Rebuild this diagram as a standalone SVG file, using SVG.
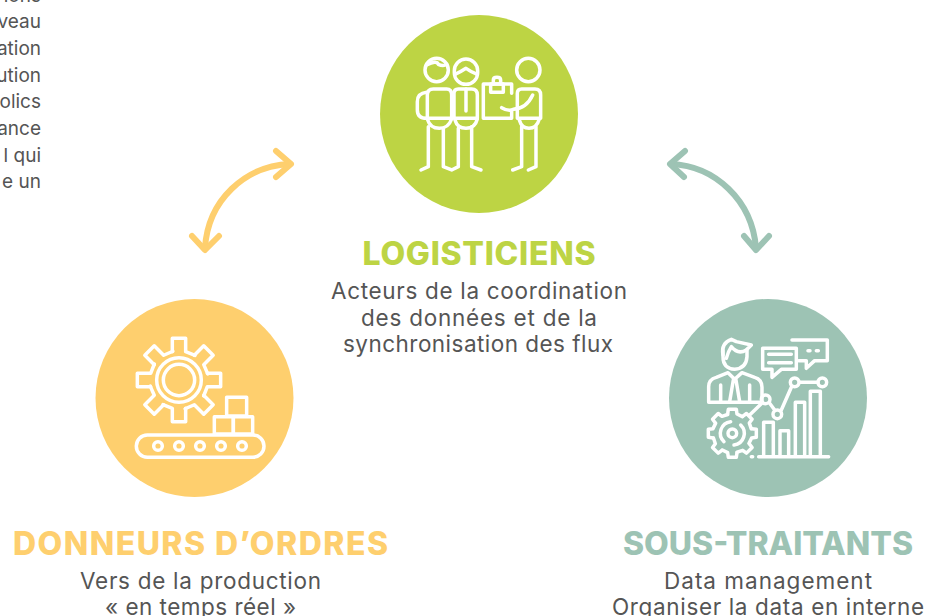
<svg xmlns="http://www.w3.org/2000/svg" xmlns:xlink="http://www.w3.org/1999/xlink" width="926" height="616" viewBox="0 0 926 616">
<style>
text{font-family:"Inter","Liberation Sans",sans-serif}
.b{font-size:22.500px;fill:#555;text-anchor:middle}
.s{font-size:19px;fill:#555;text-anchor:end}
.t{font-size:32px;font-weight:800;text-anchor:middle}
.i{fill:none;stroke:#fff;stroke-width:10.500;stroke-linecap:round;stroke-linejoin:round}
.a{fill:none;stroke-width:6;stroke-linecap:round;stroke-linejoin:round}
</style>
<rect width="926" height="616" fill="#fff"/>
<g id="side-text">
<text class="s" x="41" y="1.500">ions</text>
<text class="s" x="41" y="27.500">veau</text>
<text class="s" x="41" y="54.500">ation</text>
<text class="s" x="41" y="81.500">ution</text>
<text class="s" x="41" y="108">olics</text>
<text class="s" x="41" y="134.500">ance</text>
<text class="s" x="41" y="161.500">l qui</text>
<text class="s" x="41" y="188">e un</text>
</g>
<g id="connectors">
<g class="a" stroke="#fecf6e">
<path d="M205,248C208,200 245,166 290,164"/>
<path d="M192,236L205,250L219,236M276,151L291,164L276,177"/>
</g>
<g class="a" stroke="#9dc3b4">
<path d="M671,164C715,166 752,200 756,248"/>
<path d="M685,151L670,164L684,177M744,236L756,250L769,236"/>
</g>
</g>
<g id="logisticiens">
<circle cx="479" cy="114" r="99" fill="#bdd444"/>
<g class="i" transform="translate(380 15) scale(.3333)">
<circle cx="170" cy="165" r="35"/>
<path d="M140,150Q170,135 175,148Q190,155 200,148"/>
<path d="M142,310V240Q142,222 160,222H200Q215,222 215,240V310H142"/>
<path d="M140,232Q112,235 112,260V285Q112,310 140,310"/>
<path d="M142,312Q150,340 178,340Q205,340 215,312"/>
<path d="M145,335V455L123,465M190,340V455L215,465L235,455V340"/>
<rect x="223" y="132" width="70" height="76" rx="35"/>
<path d="M225,178Q240,172 258,160Q275,172 292,178"/>
<path d="M222,310V235Q222,222 235,222H275Q292,222 292,240V310H222"/>
<path d="M258,222V288"/>
<path d="M225,315Q232,340 258,340Q285,340 292,312"/>
<path d="M275,335V455L303,465"/>
<path d="M395,235V207H310V310H395V290"/>
<rect x="332" y="207" width="38" height="25"/>
<path d="M340,207V195Q340,187 351,187Q362,187 362,195V207"/>
<circle cx="445" cy="165" r="35"/>
<path d="M412,310V235Q412,222 425,222H465Q482,222 482,240V310H412"/>
<path d="M365,278Q385,290 400,283Q440,280 458,240"/>
<path d="M418,315Q425,340 447,340Q470,340 478,312"/>
<path d="M425,335V455L398,465M468,335V455L445,465"/>
</g>
<text class="t" x="479" y="264.500" fill="#bdd444" textLength="233">LOGISTICIENS</text>
<text class="b" x="479" y="298.500" textLength="296">Acteurs de la coordination</text>
<text class="b" x="479" y="325.500" textLength="236">des données et de la</text>
<text class="b" x="478" y="351.500" textLength="270">synchronisation des flux</text>
</g>
<g id="donneurs">
<circle cx="194.500" cy="398" r="99" fill="#fecf6e"/>
<g class="i" transform="translate(95 300) scale(.3333)">
<g transform="translate(252 240)">
<path id="g8" d="M-20,-85V-125H20V-85L48,-74"/>
<use xlink:href="#g8" href="#g8" transform="rotate(45)"/>
<use xlink:href="#g8" href="#g8" transform="rotate(90)"/>
<use xlink:href="#g8" href="#g8" transform="rotate(135)"/>
<use xlink:href="#g8" href="#g8" transform="rotate(180)"/>
<use xlink:href="#g8" href="#g8" transform="rotate(225)"/>
<use xlink:href="#g8" href="#g8" transform="rotate(270)"/>
<use xlink:href="#g8" href="#g8" transform="rotate(315)"/>
<circle r="67"/>
<circle r="47"/>
</g>
<rect x="395" y="292" width="60" height="56"/>
<rect x="358" y="350" width="57" height="52"/>
<rect x="415" y="350" width="58" height="52"/>
<rect x="124" y="405" width="383" height="67" rx="33"/>
<circle cx="189" cy="438" r="13"/>
<circle cx="252" cy="438" r="13"/>
<circle cx="315" cy="438" r="13"/>
<circle cx="378" cy="438" r="13"/>
<circle cx="441" cy="438" r="13"/>
</g>
<text class="t" x="200.500" y="555" fill="#fecf6e" textLength="375">DONNEURS D’ORDRES</text>
<text class="b" x="200.500" y="588.500" textLength="241">Vers de la production</text>
<text class="b" x="200.500" y="615" textLength="191">« en temps réel »</text>
</g>
<g id="sous-traitants">
<circle cx="768" cy="398" r="99" fill="#9dc3b4"/>
<g class="i" transform="translate(668 300) scale(.3333)">
<path d="M165,150V170Q165,205 200,208Q235,205 237,170V148"/>
<path d="M165,165Q158,130 190,118L205,125L250,135L235,150Q210,165 190,140Q180,155 175,175"/>
<path d="M122,307V260Q122,238 145,232L180,218L200,238L222,218L260,232Q282,238 282,262V307H122"/>
<path d="M158,255V305M245,255V305M196,240L185,305M204,240L215,305"/>
<path d="M284,145H385V208H340L312,232V208H284Z"/>
<path d="M372,120H478V182H440L415,205V182H392"/>
<path d="M302,163H370M302,188H370M420,152H426M445,152H451"/>
<path d="M245,345L283,308M305,310L320,330M340,330L370,262M395,247H450"/>
<circle cx="293" cy="298" r="13"/>
<circle cx="328" cy="343" r="13"/>
<circle cx="380" cy="247" r="13"/>
<circle cx="463" cy="247" r="13"/>
<path d="M287,465V367H316V465M336,465V392H362V465M382,465V307H410V465M427,465V274H457V465M272,470H482"/>
<path d="M250,470H254"/>
<g transform="translate(193 400)">
<path id="h" d="M-14,-58L-12,-72H12L14,-58L30,-50"/>
<use xlink:href="#h" href="#h" transform="rotate(45)"/>
<use xlink:href="#h" href="#h" transform="rotate(90)"/>
<use xlink:href="#h" href="#h" transform="rotate(135)"/>
<use xlink:href="#h" href="#h" transform="rotate(180)"/>
<use xlink:href="#h" href="#h" transform="rotate(225)"/>
<use xlink:href="#h" href="#h" transform="rotate(270)"/>
<use xlink:href="#h" href="#h" transform="rotate(315)"/>
<path d="M-5,-35A35,35 0 0 0 -25,25M5,35A35,35 0 0 0 25,-25"/>
<circle r="13"/>
</g>
</g>
<text class="t" x="768" y="555" fill="#9dc3b4" textLength="290">SOUS-TRAITANTS</text>
<text class="b" x="768" y="588.500" textLength="208">Data management</text>
<text class="b" x="768" y="615" textLength="312">Organiser la data en interne</text>
</g>
</svg>
